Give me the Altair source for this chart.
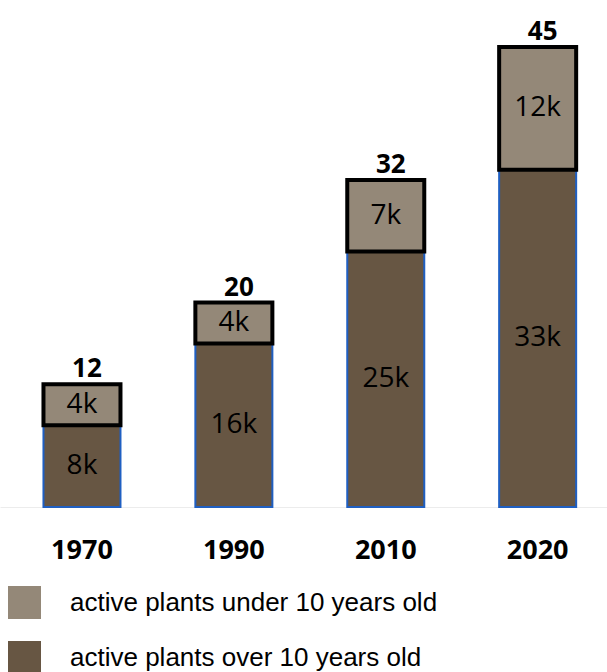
import altair as alt
import pandas as pd

# Plant counts (thousands) per year, split by age group
YEARS = ["1970", "1990", "2010", "2020"]
OVER_10 = [8, 16, 25, 33]
UNDER_10 = [4, 4, 7, 12]
SERIES = ["active plants under 10 years old", "active plants over 10 years old"]

LIGHT = "#948878"
DARK = "#675643"
BLUE_EDGE = "#1f5fc2"

rows = []
for yr, v in zip(YEARS, OVER_10):
    rows.append({"year": yr, "series": SERIES[1], "value": v, "rank": 0})
for yr, v in zip(YEARS, UNDER_10):
    rows.append({"year": yr, "series": SERIES[0], "value": v, "rank": 1})
df = pd.DataFrame(rows)

x_enc = alt.X(
    "year:N",
    sort=YEARS,
    title=None,
    scale=alt.Scale(paddingInner=0.493, paddingOuter=0.2446, align=0.585),
    axis=alt.Axis(
        labelFont="Open Sans",
        labelFontWeight="bold",
        labelFontSize=27,
        labelColor="black",
        labelPadding=30,
        labelAngle=0,
        ticks=False,
        tickSize=0,
        grid=False,
        domainColor="#ececec",
        domainWidth=1,
    ),
)
y_scale = alt.Scale(domain=[0, 49.6], nice=False)
color_enc = alt.Color(
    "series:N",
    title=None,
    scale=alt.Scale(domain=SERIES, range=[LIGHT, DARK]),
    legend=alt.Legend(
        orient="none",
        legendX=8,
        legendY=586,
        direction="vertical",
        symbolType="square",
        symbolSize=1089,
        symbolStrokeWidth=0,
        labelFont="Liberation Sans",
        labelFontSize=26,
        labelColor="black",
        labelOffset=29,
        labelLimit=0,
        rowPadding=22,
        padding=0,
    ),
)

base = alt.Chart(df).transform_stack(
    stack="value",
    groupby=["year"],
    as_=["y0", "y1"],
    sort=[alt.SortField("rank", order="ascending")],
)

over_bars = base.transform_filter(alt.datum.rank == 0).mark_bar(
    stroke=BLUE_EDGE, strokeWidth=2
).encode(
    x=x_enc,
    y=alt.Y("y0:Q", scale=y_scale, axis=None),
    y2="y1:Q",
    color=color_enc,
)

under_bars = base.transform_filter(alt.datum.rank == 1).mark_bar(
    stroke="black", strokeWidth=4
).encode(
    x=x_enc,
    y=alt.Y("y0:Q", scale=y_scale, axis=None),
    y2="y1:Q",
    color=color_enc,
)

segment_labels = base.transform_calculate(
    mid="(datum.y0 + datum.y1) / 2",
    label="datum.value + 'k'",
).mark_text(
    font="Open Sans", fontSize=28, color="black", baseline="middle", align="center"
).encode(
    x=x_enc,
    y=alt.Y("mid:Q", scale=y_scale, axis=None),
    text="label:N",
)

total_labels = alt.Chart(df).transform_aggregate(
    total="sum(value)", groupby=["year"]
).mark_text(
    font="Open Sans",
    fontSize=26,
    fontWeight="bold",
    color="black",
    baseline="alphabetic",
    align="center",
    dy=-7,
    dx=5,
).encode(
    x=x_enc,
    y=alt.Y("total:Q", scale=y_scale, axis=None),
    text="total:Q",
)

chart = alt.layer(over_bars, under_bars, segment_labels, total_labels).properties(
    width=607,
    height=507,
    padding=0,
    autosize=alt.AutoSizeParams(type="pad"),
).configure_view(strokeWidth=0)

chart.save("out.html", embed_options={"renderer": "svg", "actions": False})
